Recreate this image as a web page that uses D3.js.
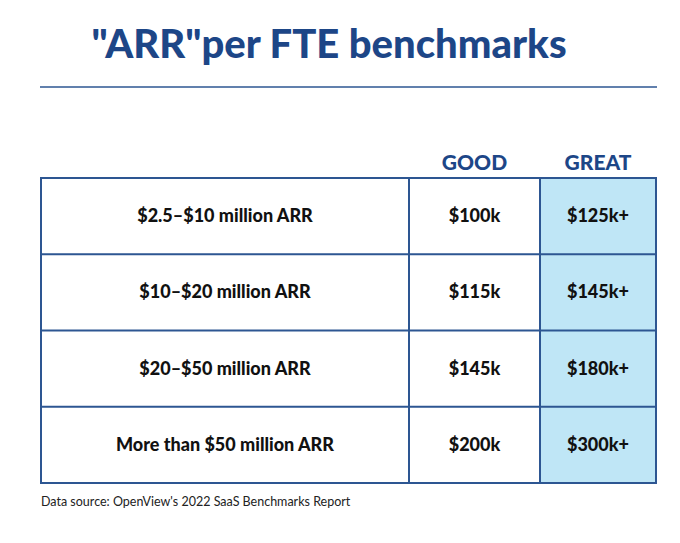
<!DOCTYPE html>
<html><head><meta charset="utf-8">
<script src="https://cdn.jsdelivr.net/npm/d3@7"></script>
<style>body{margin:0;background:#fff}</style></head>
<body><script>
const categories = ["$2.5–$10 million ARR","$10–$20 million ARR","$20–$50 million ARR","More than $50 million ARR"];
const columns = ["GOOD","GREAT"];
const good = ["$100k","$115k","$145k","$200k"];
const great = ["$125k+","$145k+","$180k+","$300k+"];
const W=680,H=543, navy="#1d4687", border="#2d5692";
const svg=d3.select("body").append("svg").attr("width",W).attr("height",H);
svg.append("text").attr("x",329).attr("y",58).attr("text-anchor","middle")
 .attr("font-family","Lato, 'Open Sans', sans-serif").attr("font-weight",900).attr("font-size",40)
 .attr("fill",navy).text('"ARR"per FTE benchmarks');
svg.append("line").attr("x1",40).attr("x2",657).attr("y1",87).attr("y2",87).attr("stroke",border).attr("stroke-width",1.5);
const x0=41,x1=409,x2=540,x3=656;
const y=d3.scaleBand().domain(categories).range([178,483]);
const colX=[[x1,x2],[x2,x3]];
svg.append("rect").attr("x",x2).attr("y",178).attr("width",x3-x2).attr("height",305).attr("fill","#bfe6f6");
columns.forEach((c,i)=>svg.append("text").attr("x",(colX[i][0]+colX[i][1])/2).attr("y",170).attr("text-anchor","middle")
 .attr("font-family","Lato, sans-serif").attr("font-weight",900).attr("font-size",21).attr("fill",navy).text(c));
const g=svg.append("g").attr("font-family","Lato, sans-serif").attr("font-weight",900).attr("font-size",18).attr("fill","#111").attr("text-anchor","middle");
categories.forEach((c,i)=>{
 const cy=y(c)+y.bandwidth()/2+6;
 g.append("text").attr("x",(x0+x1)/2).attr("y",cy).text(c);
 g.append("text").attr("x",(x1+x2)/2).attr("y",cy).text(good[i]);
 g.append("text").attr("x",(x2+x3)/2).attr("y",cy).text(great[i]);
 if(i>0) svg.append("line").attr("x1",x0).attr("x2",x3).attr("y1",y(c)).attr("y2",y(c)).attr("stroke",border).attr("stroke-width",2);
});
[x1,x2].forEach(x=>svg.append("line").attr("x1",x).attr("x2",x).attr("y1",178).attr("y2",483).attr("stroke",border).attr("stroke-width",2));
svg.append("rect").attr("x",x0).attr("y",178).attr("width",x3-x0).attr("height",305).attr("fill","none").attr("stroke",border).attr("stroke-width",2);
svg.append("text").attr("x",41).attr("y",506).attr("font-family","Lato, sans-serif").attr("font-size",12.5).attr("fill","#222")
 .text("Data source: OpenView's 2022 SaaS Benchmarks Report");
</script></body></html>
